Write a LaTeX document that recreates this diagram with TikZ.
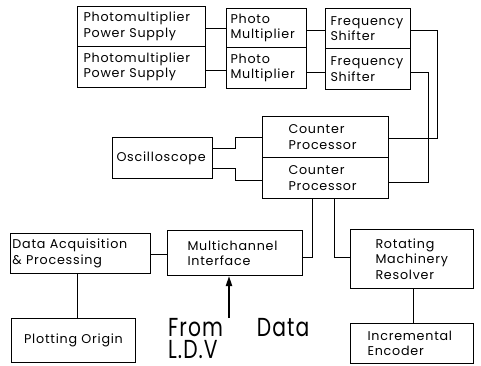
\documentclass[tikz,border=0pt]{standalone}
\usepackage{fontspec}
\setmainfont{Poppins}[LetterSpace=6]
\newfontfamily\bigfont{Poppins}[FakeStretch=0.78,LetterSpace=4]
\usetikzlibrary{arrows.meta}
\begin{document}
\begin{tikzpicture}[x=1pt,y=-1pt,
  box/.style n args={3}{draw, line width=1pt, anchor=north west, inner ysep=0pt,
    minimum width=#1pt, minimum height=#2pt, inner xsep=#3pt,
    text width=#1pt-2*#3pt, align=left,
    font=\fontsize{12.7}{15.5}\selectfont},
  conn/.style={line width=0.8pt},
  bigtxt/.style={anchor=north west, inner sep=0pt, align=left,
    font=\bigfont\fontsize{26}{22.5}\selectfont}]
\useasboundingbox (0,0) rectangle (481,365);
% top rows
\node[box={128}{40}{6}] (pps1) at (77,6) {Photomultiplier\\Power Supply};
\node[box={128}{41}{6}] (pps2) at (77,46) {Photomultiplier\\Power Supply};
\node[box={80}{39}{4}] (pm1) at (226,8) {Photo\\Multiplier};
\node[box={80}{41}{4}] (pm2) at (226,47) {Photo\\Multiplier};
\node[box={85}{40}{5}] (fs1) at (325,8) {Frequency\\Shifter};
\node[box={85}{41}{5}] (fs2) at (325,48) {Frequency\\Shifter};
% counter processors
\node[box={126}{41}{26}] (cp1) at (262,116) {Counter\\Processor};
\node[box={126}{41}{26}] (cp2) at (262,157) {Counter\\Processor};
\node[box={100}{41}{4}] (osc) at (112,137) {Oscilloscope};
% bottom
\node[box={140}{40}{2}] (da) at (10,233) {Data Acquisition\\\& Processing};
\node[box={135}{45}{20}] (mi) at (167,230) {Multichannel\\Interface};
\node[box={123}{59}{25}] (rmr) at (350,229) {Rotating\\Machinery\\Resolver};
\node[box={123}{40}{17}] (ie) at (350,323) {Incremental\\Encoder};
\node[box={124}{44}{2}, align=center] (po) at (11,318) {Plotting Origin};
\node[bigtxt] (src) at (168,318) {From\hspace{34pt}Data\\L.D.V};
% connectors
\draw[conn] (pps1.east |- 0,28) -- (pm1.west |- 0,28);
\draw[conn] (pm1.east |- 0,30) -- (fs1.west |- 0,30);
\draw[conn] (pps2.east |- 0,70) -- (pm2.west |- 0,70);
\draw[conn] (pm2.east |- 0,72) -- (fs2.west |- 0,72);
\draw[conn] (fs1.east |- 0,30) -| (437,138) -- (cp1.east |- 0,138);
\draw[conn] (fs2.east |- 0,72) -| (428,182) -- (cp2.east |- 0,182);
\draw[conn] (osc.east |- 0,148) -| (235,137) -- (cp1.west |- 0,137);
\draw[conn] (osc.east |- 0,168) -| (235,180) -- (cp2.west |- 0,180);
\draw[conn] (cp2.south -| 312,0) |- (mi.east |- 0,257);
\draw[conn] (cp2.south -| 334,0) |- (rmr.west |- 0,257);
\draw[conn] (da.east |- 0,254) -- (mi.west |- 0,254);
\draw[conn] (da.south -| 77,0) -- (po.north -| 77,0);
\draw[conn] (rmr.south -| 413,0) -- (ie.north -| 413,0);
\draw[line width=2pt, -{Triangle[length=10pt,width=6pt]}] (src.north -| 229,0) -- (mi.south -| 229,0);
\end{tikzpicture}
\end{document}
